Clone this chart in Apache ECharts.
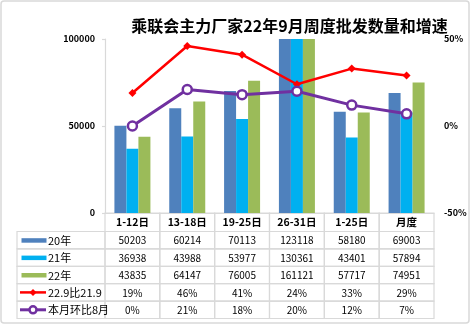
<!DOCTYPE html>
<html><head><meta charset="utf-8">
<script src="https://cdn.jsdelivr.net/npm/echarts@6/dist/echarts.min.js"></script>
<style>html,body{margin:0;padding:0;background:#fff}#c{width:471px;height:325px}</style>
</head><body><div id="c"></div>
<script>
var titleText = '乘联会主力厂家22年9月周度批发数量和增速';
var categories = ['1-12日','13-18日','19-25日','26-31日','1-25日','月度'];
var s20 = [50203,60214,70113,123118,58180,69003];
var s21 = [36938,43988,53977,130361,43401,57894];
var s22 = [43835,64147,76005,161121,57717,74951];
var yoy = [19,46,41,24,33,29];
var mom = [0,21,18,20,12,7];
var seriesNames = ['20年','21年','22年','22.9比21.9','本月环比8月'];
var leftTicks = [0,50000,100000];
var rightTicks = [-50,0,50];

var FONT = '"Noto Sans CJK SC", "Noto Sans", sans-serif';
var colors = ['#4F81BD','#00B0F0','#9BBB59','#FF0000','#7030A0'];

var chart = echarts.init(document.getElementById('c'), null, {renderer:'canvas'});

var gridLeft = 105, gridRight = 434, gridTop = 39, gridBottom = 213;
var tableLeft = 17, rowTop = 231.5, rowH = 17.4;
var colW = (gridRight - gridLeft) / categories.length;

var graphics = [];
graphics.push({type:'rect', shape:{x:1,y:1,width:468,height:322,r:3}, style:{fill:'none',stroke:'#D9D9D9',lineWidth:1.5}, z:-1});
graphics.push({type:'text', x:289.5, y:25.5,
  style:{text:titleText, align:'center', verticalAlign:'middle', font:'bold 16px '+FONT, fill:'#000'}});
for (var i=0;i<categories.length;i++){
  graphics.push({type:'rect', shape:{x:gridLeft+i*colW,y:gridBottom,width:colW,height:rowTop-gridBottom}, style:{fill:'none',stroke:'#D9D9D9',lineWidth:1.2}, z:-1});
}
var rows = [
  s20.map(String), s21.map(String), s22.map(String),
  yoy.map(function(v){return v+'%';}), mom.map(function(v){return v+'%';})
];
for (var r=0;r<rows.length;r++){
  var y = rowTop + r*rowH;
  var cy = y + rowH/2;
  graphics.push({type:'rect', shape:{x:tableLeft,y:y,width:gridLeft-tableLeft,height:rowH}, style:{fill:'none',stroke:'#D9D9D9',lineWidth:1.2}, z:-1});
  if (r < 3) {
    graphics.push({type:'rect', shape:{x:21.5,y:cy-2,width:25,height:4.5}, style:{fill:colors[r]}});
  } else {
    graphics.push({type:'line', shape:{x1:20,y1:cy,x2:46,y2:cy}, style:{stroke:colors[r],lineWidth:r===3?2.5:3}});
    if (r === 3) {
      graphics.push({type:'polygon', shape:{points:[[33,cy-3.5],[36.5,cy],[33,cy+3.5],[29.5,cy]]}, style:{fill:colors[r]}});
    } else {
      graphics.push({type:'circle', shape:{cx:33,cy:cy,r:3.5}, style:{fill:'#fff',stroke:colors[r],lineWidth:2.5}});
    }
  }
  graphics.push({type:'text', x:48, y:cy+0.5,
    style:{text:seriesNames[r], align:'left', verticalAlign:'middle', font:'11px '+FONT, fill:'#000'}});
  for (var c=0;c<rows[r].length;c++){
    graphics.push({type:'rect', shape:{x:gridLeft+c*colW,y:y,width:colW,height:rowH}, style:{fill:'none',stroke:'#D9D9D9',lineWidth:1.2}, z:-1});
    graphics.push({type:'text', x:gridLeft+c*colW+colW/2, y:cy+0.5,
      style:{text:rows[r][c], align:'center', verticalAlign:'middle', font:'10px '+FONT, fill:'#000'}});
  }
}

var option = {
  animation:false,
  grid:{left:gridLeft, right:471-gridRight, top:gridTop, bottom:325-gridBottom, containLabel:false},
  xAxis:{type:'category', data:categories,
    axisLine:{show:true,lineStyle:{color:'#D9D9D9',width:1.2}},
    axisTick:{show:false},
    axisLabel:{margin:4, fontFamily:FONT, fontSize:10.5, color:'#000', fontWeight:'bold'}},
  yAxis:[
    {type:'value', min:leftTicks[0], max:leftTicks[2], interval:leftTicks[1]-leftTicks[0],
     axisLine:{show:true,lineStyle:{color:'#D9D9D9',width:1.2}},
     axisTick:{show:true,length:3,lineStyle:{color:'#D9D9D9',width:1.2}},
     splitLine:{show:false},
     axisLabel:{margin:10, formatter:function(v){return String(v);}, fontFamily:FONT, fontSize:9, fontWeight:'bold', color:'#000'}},
    {type:'value', min:rightTicks[0], max:rightTicks[2], interval:rightTicks[1]-rightTicks[0],
     axisLine:{show:false}, axisTick:{show:false}, splitLine:{show:false},
     axisLabel:{margin:10, formatter:'{value}%', fontFamily:FONT, fontSize:9, fontWeight:'bold', color:'#000'}}
  ],
  series:[
    {name:seriesNames[0], type:'bar', data:s20, barWidth:12, barGap:'0%', itemStyle:{color:colors[0]}, clip:true},
    {name:seriesNames[1], type:'bar', data:s21, barWidth:12, barGap:'0%', itemStyle:{color:colors[1]}, clip:true},
    {name:seriesNames[2], type:'bar', data:s22, barWidth:12, barGap:'0%', itemStyle:{color:colors[2]}, clip:true},
    {name:seriesNames[3], type:'line', yAxisIndex:1, data:yoy, symbol:'diamond', symbolSize:8,
     lineStyle:{color:colors[3],width:2.5}, itemStyle:{color:colors[3]}, z:5},
    {name:seriesNames[4], type:'line', yAxisIndex:1, data:mom, symbol:'circle', symbolSize:9,
     lineStyle:{color:colors[4],width:3}, itemStyle:{color:'#fff',borderColor:colors[4],borderWidth:2.5}, z:6}
  ],
  graphic:graphics
};
chart.setOption(option);
</script></body></html>
